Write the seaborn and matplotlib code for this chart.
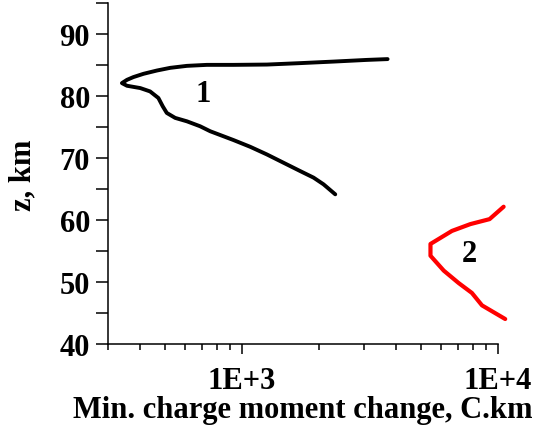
import numpy as np
import pandas as pd
import matplotlib
matplotlib.use("Agg")
import matplotlib.pyplot as plt
import matplotlib.ticker as mticker
import seaborn as sns

# Curve 1: minimum charge moment change vs altitude, traced from the
# upper-right end through the turning point down to the lower end
curve1_cmc = [3706, 3078, 2280, 1689, 1252, 927, 730, 610, 525, 466, 413, 377,
              356, 340, 356, 401, 438, 472, 491, 509, 549, 610, 687, 752, 812,
              927, 1078, 1252, 1454, 1689, 1905, 2084, 2315]
curve1_z = [86.0, 85.87, 85.6, 85.35, 85.12, 85.07, 85.07, 84.91, 84.59, 84.16,
            83.63, 83.1, 82.66, 82.13, 81.7, 81.33, 80.79, 79.73, 78.38, 77.32,
            76.52, 75.97, 75.17, 74.37, 73.85, 72.95, 71.86, 70.63, 69.29, 67.95,
            66.89, 65.81, 64.2]

# Curve 2: lower branch
curve2_cmc = [10520, 9270, 7800, 6610, 5450, 5450, 6140, 7020, 7910, 8660, 10670]
curve2_z = [62.2, 60.2, 59.4, 58.3, 56.2, 54.3, 51.9, 49.9, 48.3, 46.3, 44.1]

curve_labels = ["1", "2"]
label_cmc = [705, 7740]
label_z = [80.5, 54.6]

y_ticks = [40, 50, 60, 70, 80, 90]
x_major = [1e3, 1e4]
x_major_labels = ["1E+3", "1E+4"]

df = pd.concat([
    pd.DataFrame({"cmc": curve1_cmc, "z": curve1_z, "curve": "1"}),
    pd.DataFrame({"cmc": curve2_cmc, "z": curve2_z, "curve": "2"}),
])

sns.set_style("ticks")
plt.rcParams["font.family"] = ["Liberation Serif", "DejaVu Serif"]
plt.rcParams["font.weight"] = "bold"
for key in ("text.color", "axes.labelcolor", "xtick.color", "ytick.color",
            "axes.edgecolor"):
    plt.rcParams[key] = "black"

fig = plt.figure(figsize=(5.47, 4.27), dpi=100)
ax = fig.add_axes([0.1974, 0.191, 0.7130, 0.799])

for name, color, lw in [("1", "black", 2.8), ("2", "#ff0000", 3.0)]:
    sub = df[df["curve"] == name]
    sns.lineplot(data=sub, x="cmc", y="z", sort=False, estimator=None,
                 color=color, linewidth=lw, ax=ax, legend=False,
                 solid_capstyle="round", solid_joinstyle="round", clip_on=False)

ax.set_xscale("log")
ax.set_xlim(300, 10000)
ax.set_ylim(40, 95)

ax.set_yticks(y_ticks)
ax.yaxis.set_minor_locator(mticker.MultipleLocator(5))
ax.set_xticks(x_major)
ax.set_xticklabels(x_major_labels)
ax.xaxis.set_minor_locator(mticker.LogLocator(base=10, subs=np.arange(2, 10)))
ax.xaxis.set_minor_formatter(mticker.NullFormatter())

for t, z, c in zip(curve_labels, label_z, label_cmc):
    ax.text(c, z, t, ha="center", va="center", fontsize=22, fontweight="bold",
            color="black")

ax.tick_params(axis="both", which="both", direction="out", color="black",
               labelcolor="black", width=1.1, labelsize=22)
ax.tick_params(axis="y", which="both", length=9, pad=4)
ax.tick_params(axis="x", which="major", length=7.5, pad=8)
ax.tick_params(axis="x", which="minor", length=4)

ax.set_xlabel("Min. charge moment change, C.km", fontsize=22, fontweight="bold",
              labelpad=0, color="black")
ax.set_ylabel("z, km", fontsize=22, fontweight="bold", labelpad=15.5, color="black")

sns.despine(ax=ax)
for s in ("left", "bottom"):
    ax.spines[s].set_linewidth(1.1)
    ax.spines[s].set_color("black")

fig.savefig("out.png", dpi=100)
